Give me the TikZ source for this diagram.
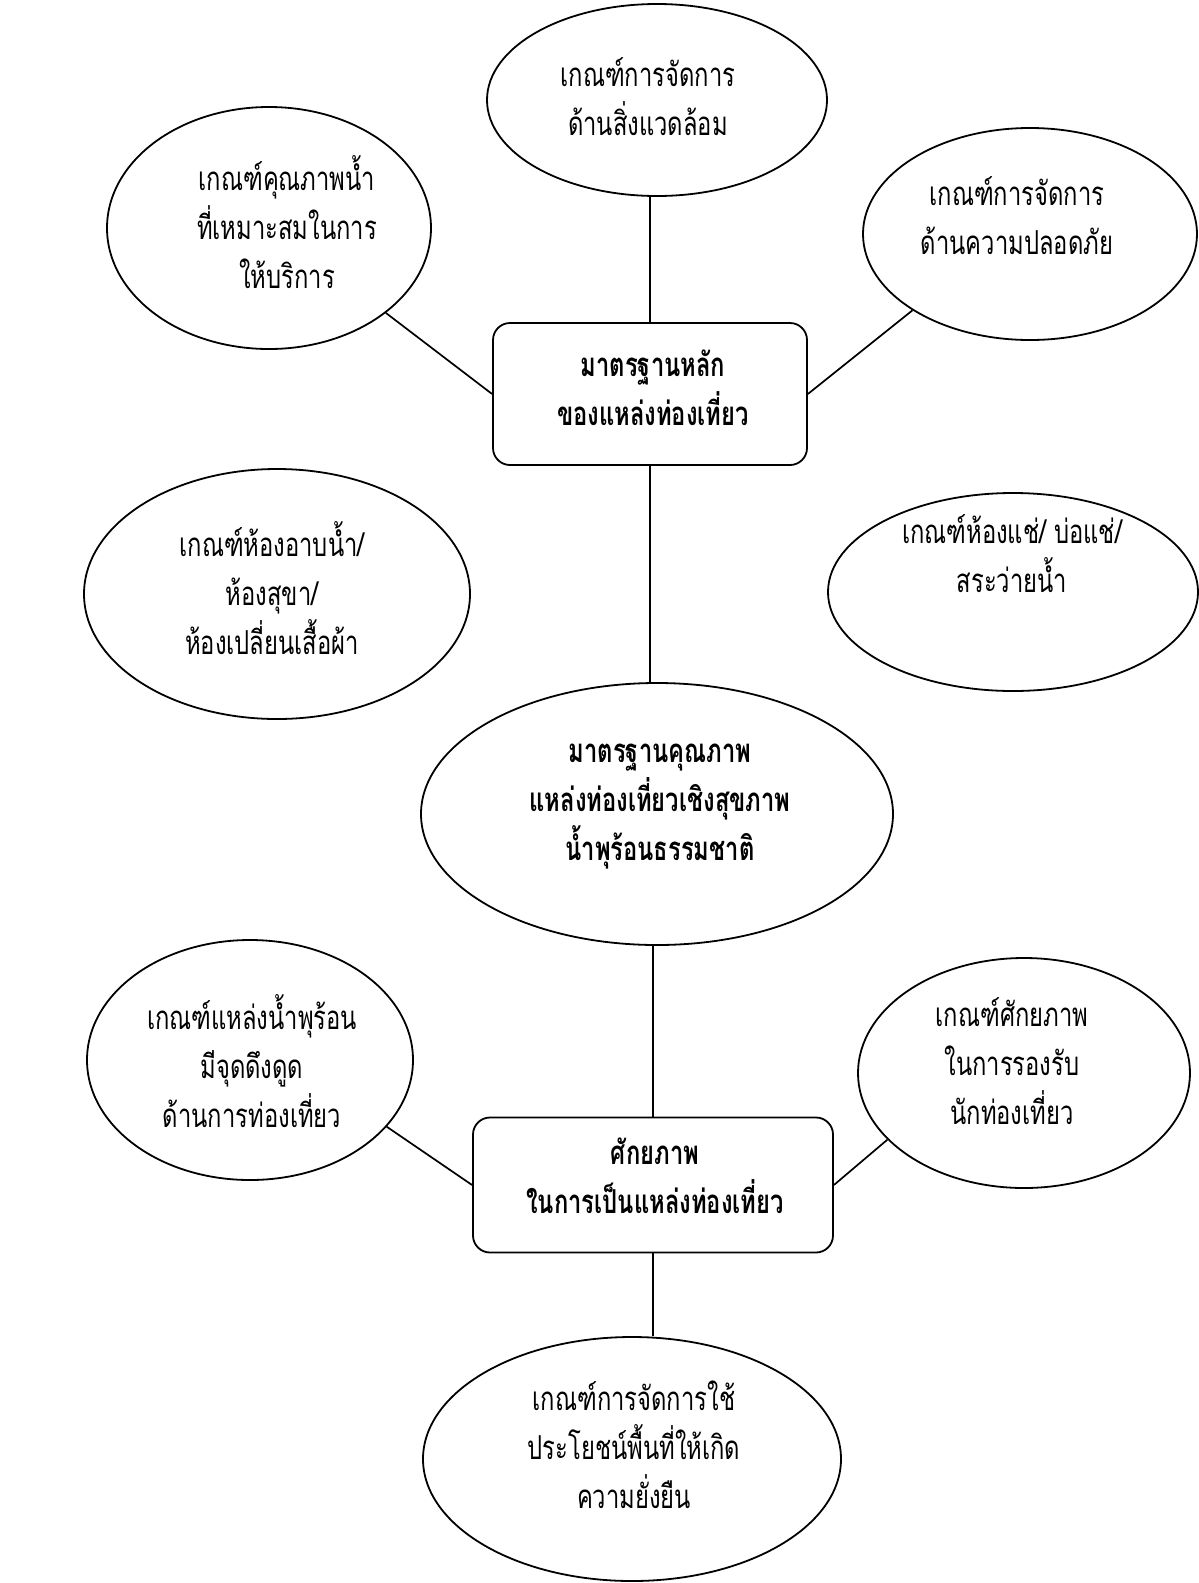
\documentclass[tikz,border=0pt]{standalone}
\usepackage{fontspec}
\newfontfamily\thaifont[Script=Thai, FakeStretch=0.72]{Loma}
\usetikzlibrary{shapes.geometric}
\tikzset{
  ell/.style={draw, ellipse, line width=1.8pt, inner sep=0pt},
  box/.style={draw, rectangle, rounded corners=17pt, line width=1.8pt, inner sep=0pt},
  txt/.style={align=center, inner sep=0pt, font=\thaifont\fontsize{33}{49}\selectfont},
  btxt/.style={txt, font=\thaifont\bfseries\fontsize{33}{49}\selectfont},
  conn/.style={line width=1.7pt}
}
\begin{document}
\begin{tikzpicture}[x=1pt,y=-1pt]
\useasboundingbox (0,0) rectangle (1199,1583);
% shapes
\node[ell, minimum width=340pt, minimum height=192pt] (env) at (657,100) {};
\node[ell, minimum width=324pt, minimum height=242pt] (wq) at (269,228) {};
\node[ell, minimum width=334pt, minimum height=212pt] (sf) at (1030,234) {};
\node[box, minimum width=314pt, minimum height=142pt] (r1) at (650,394) {};
\node[ell, minimum width=386pt, minimum height=250pt] (bath) at (277,594) {};
\node[ell, minimum width=370pt, minimum height=198pt] (soak) at (1013,592) {};
\node[ell, minimum width=472pt, minimum height=262pt] (big) at (657,814) {};
\node[ell, minimum width=326pt, minimum height=240pt] (hs) at (250,1060) {};
\node[ell, minimum width=332pt, minimum height=230pt] (cap) at (1024,1073) {};
\node[box, minimum width=360pt, minimum height=135pt] (r2) at (653,1185) {};
\node[ell, minimum width=418pt, minimum height=244pt] (bot) at (632,1459) {};
% texts
\node[txt] (envt) at (648,97) {เกณฑ์การจัดการ\\ด้านสิ่งแวดล้อม};
\node[txt] (wqt) at (287,222) {เกณฑ์คุณภาพน้ำ\\ที่เหมาะสมในการ\\ให้บริการ};
\node[txt] (sft) at (1017,216) {เกณฑ์การจัดการ\\ด้านความปลอดภัย};
\node[btxt] (r1t) at (653,388) {มาตรฐานหลัก\\ของแหล่งท่องเที่ยว};
\node[txt] (batht) at (272,588) {เกณฑ์ห้องอาบน้ำ/\\ห้องสุขา/\\ห้องเปลี่ยนเสื้อผ้า};
\node[txt] (soakt) at (1012,554) {เกณฑ์ห้องแช่/ บ่อแช่/\\สระว่ายน้ำ};
\node[btxt] (bigt) at (660,807) {มาตรฐานคุณภาพ\\แหล่งท่องเที่ยวเชิงสุขภาพ\\น้ำพุร้อนธรรมชาติ};
\node[txt] (hst) at (252,1061) {เกณฑ์แหล่งน้ำพุร้อน\\มีจุดดึงดูด\\ด้านการท่องเที่ยว};
\node[txt] (capt) at (1012,1061) {เกณฑ์ศักยภาพ\\ในการรองรับ\\นักท่องเที่ยว};
\node[btxt] (r2t) at (655,1176) {ศักยภาพ\\ในการเป็นแหล่งท่องเที่ยว};
\node[txt] (bott) at (634,1445) {เกณฑ์การจัดการใช้\\ประโยชน์พื้นที่ให้เกิด\\ความยั่งยืน};
% connectors
\draw[conn] (r1.north) -- (r1.north |- env.south);
\draw[conn] (wq.-36) -- (r1.west);
\draw[conn] (sf.-147) -- (r1.east);
\draw[conn] (r1.south) -- (r1.south |- big.north);
\draw[conn] (r2.north) -- (r2.north |- big.south);
\draw[conn] (hs.-26) -- (r2.west);
\draw[conn] (cap.-154) -- (r2.east);
\draw[conn] (r2.south) -- (r2.south |- bot.north);
\end{tikzpicture}
\end{document}
